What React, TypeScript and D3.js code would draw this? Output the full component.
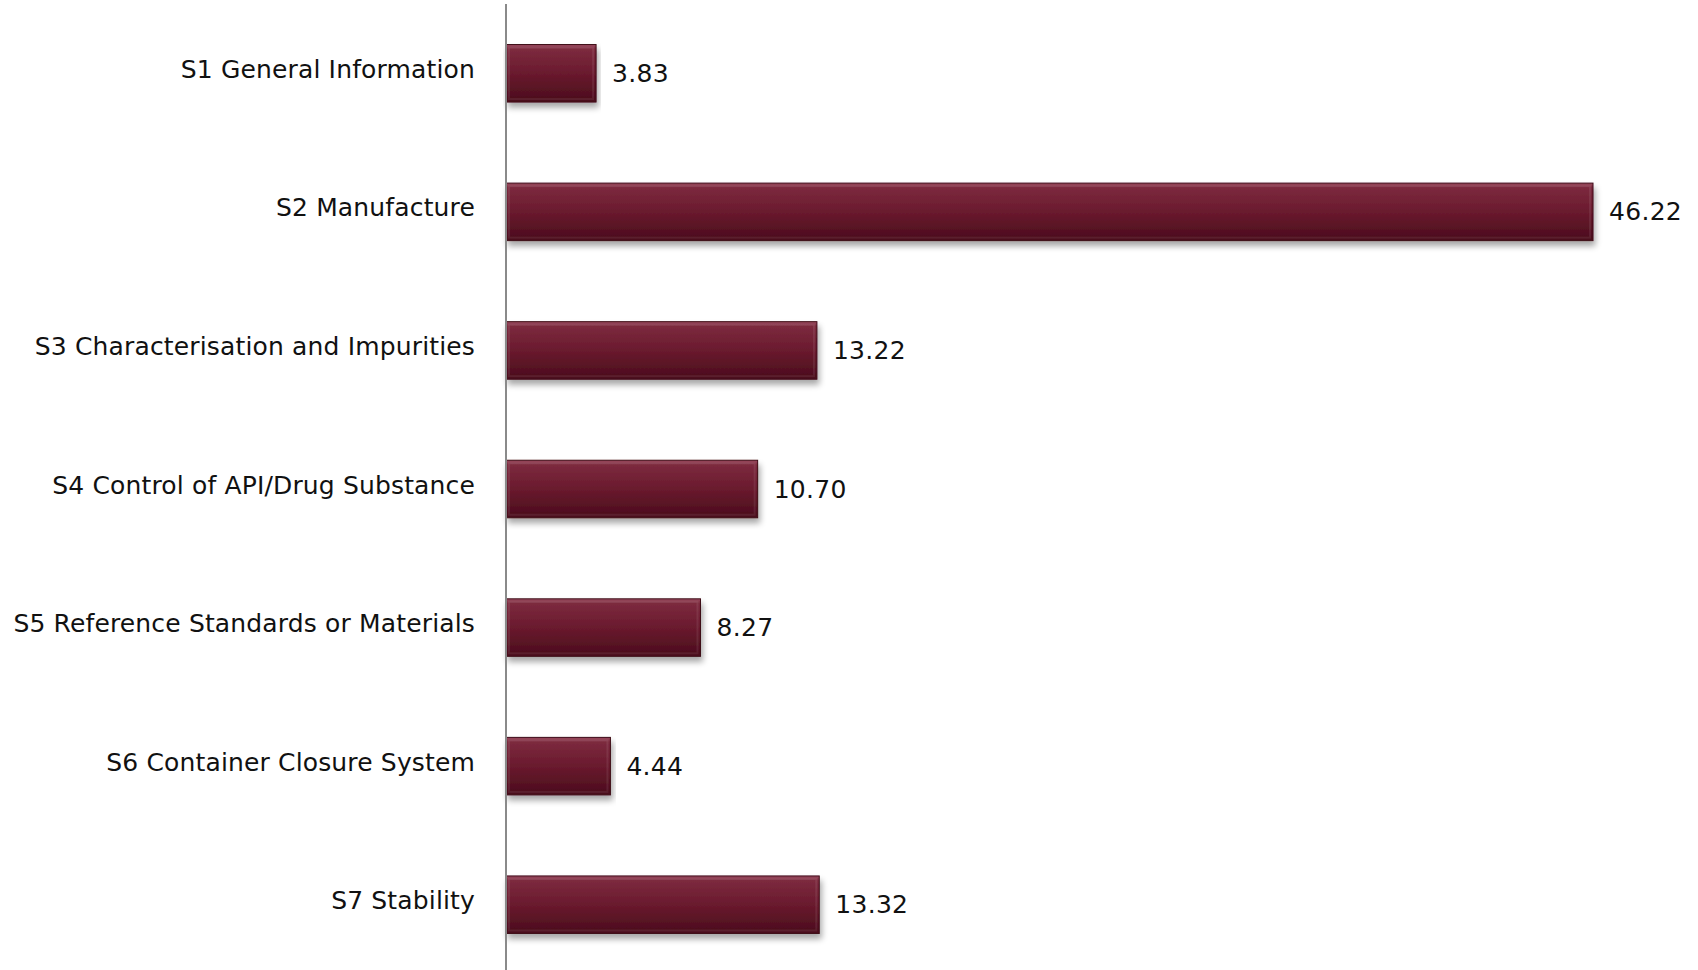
import React from "react";
import * as d3 from "d3";

const categories: string[] = [
  "S1 General Information",
  "S2 Manufacture",
  "S3 Characterisation and Impurities",
  "S4 Control of API/Drug Substance",
  "S5 Reference Standards or Materials",
  "S6 Container Closure System",
  "S7 Stability",
];
const values: number[] = [3.83, 46.22, 13.22, 10.7, 8.27, 4.44, 13.32];

const W = 1698;
const H = 970;
const axisX = 506;

export default function App() {
  const x = d3.scaleLinear().domain([0, 46.22]).range([axisX, 1593]);
  const y = d3
    .scaleBand<string>()
    .domain(categories)
    .range([4, 974])
    .paddingInner(0.585)
    .paddingOuter(0.2925);
  const bw = y.bandwidth();
  return (
    <svg
      width={W}
      height={H}
      style={{ position: "absolute", left: 0, top: 0, background: "#fff" }}
      fontFamily="'DejaVu Sans', sans-serif"
    >
      <defs>
        <linearGradient id="barGrad" x1="0" y1="0" x2="0" y2="1">
          <stop offset="0" stopColor="#9a4b5f" />
          <stop offset="0.08" stopColor="#7c2a3e" />
          <stop offset="0.5" stopColor="#6a1a2e" />
          <stop offset="1" stopColor="#4a0c1c" />
        </linearGradient>
        <filter id="shadow" x="-5%" y="-20%" width="110%" height="160%">
          <feGaussianBlur in="SourceAlpha" stdDeviation="3" />
          <feOffset dx="2" dy="5" result="b" />
          <feComponentTransfer>
            <feFuncA type="linear" slope="0.35" />
          </feComponentTransfer>
          <feMerge>
            <feMergeNode />
            <feMergeNode in="SourceGraphic" />
          </feMerge>
        </filter>
      </defs>
      {categories.map((c, i) => {
        const yy = y(c)!;
        const x1 = x(values[i]);
        const cy = yy + bw / 2;
        return (
          <g key={c}>
            <rect
              x={axisX}
              y={yy}
              width={x1 - axisX}
              height={bw}
              fill="url(#barGrad)"
              stroke="#3e0a16"
              strokeWidth={1}
              filter="url(#shadow)"
            />
            <rect
              x={axisX + 3}
              y={yy + 3}
              width={Math.max(0, x1 - axisX - 6)}
              height={bw - 6}
              fill="none"
              stroke="#ffffff"
              strokeOpacity={0.08}
              strokeWidth={2}
            />
            <text
              x={475}
              y={cy + 4.5}
              textAnchor="end"
              fontSize={25}
              letterSpacing={0.15}
              fill="#111"
            >
              {c}
            </text>
            <text
              x={x1 + 16}
              y={cy + 8.5}
              textAnchor="start"
              fontSize={25}
              letterSpacing={0.3}
              fill="#111"
            >
              {values[i].toFixed(2)}
            </text>
          </g>
        );
      })}
      <line x1={axisX} x2={axisX} y1={4} y2={H} stroke="#8a8a8a" strokeWidth={2} />
    </svg>
  );
}
